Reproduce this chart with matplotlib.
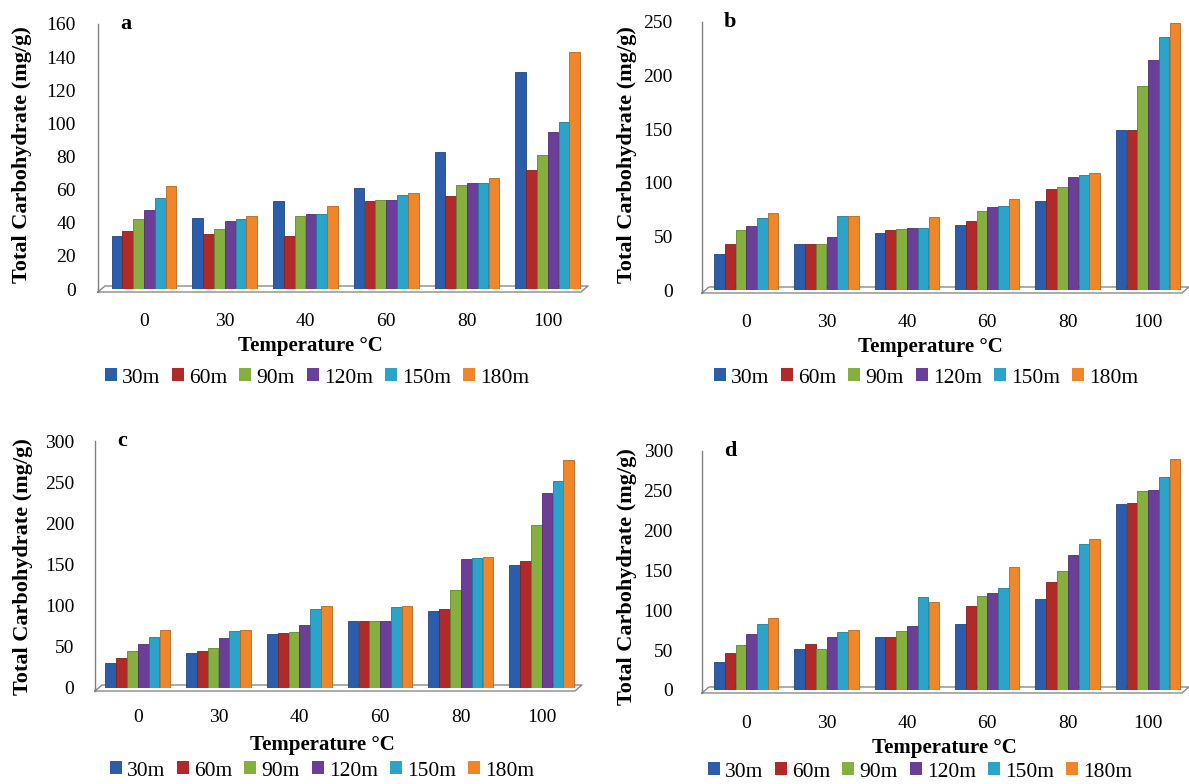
import matplotlib
matplotlib.use("Agg")
import matplotlib.pyplot as plt
from matplotlib.patches import Patch
import numpy as np

plt.rcParams['font.family'] = ['Liberation Serif', 'DejaVu Serif']

temps = ["0", "30", "40", "60", "80", "100"]
series = ["30m", "60m", "90m", "120m", "150m", "180m"]
colors = ["#2B5DAA", "#B02A2A", "#85B040", "#6B3F97", "#2CA3C8", "#F0862A"]

# values[temperature][series]
panel_a = [[32, 35, 42, 48, 55, 62],
           [43, 33, 36, 41, 42, 44],
           [53, 32, 44, 45, 45, 50],
           [61, 53, 54, 54, 57, 58],
           [83, 56, 63, 64, 64, 67],
           [131, 72, 81, 95, 101, 143]]
panel_b = [[34, 43, 56, 60, 67, 72],
           [43, 43, 43, 49, 69, 69],
           [53, 56, 57, 58, 58, 68],
           [61, 64, 74, 77, 78, 85],
           [83, 94, 96, 105, 107, 109],
           [149, 149, 190, 215, 236, 249]]
panel_c = [[30, 37, 45, 53, 62, 70],
           [43, 45, 49, 61, 69, 71],
           [65, 67, 68, 77, 96, 100],
           [81, 81, 81, 81, 98, 100],
           [93, 96, 119, 157, 158, 159],
           [150, 154, 198, 237, 251, 277]]
panel_d = [[35, 46, 56, 70, 83, 90],
           [51, 58, 52, 67, 73, 75],
           [67, 67, 74, 80, 117, 111],
           [83, 106, 118, 122, 128, 154],
           [114, 136, 149, 170, 183, 190],
           [233, 235, 250, 251, 267, 290]]

W, H = 1189, 784
fig = plt.figure(figsize=(W / 100, H / 100), dpi=100)

def add_ax(x0, x1, ytop, ybot):
    return fig.add_axes([x0 / W, 1 - ybot / H, (x1 - x0) / W, (ybot - ytop) / H])

def darker(c, f=0.75):
    r, g, b = matplotlib.colors.to_rgb(c)
    return (r * f, g * f, b * f)

panels = [
    # data, letter, ymax, step, axes px (x0,x1,ytop,ybot), xlim, xtick pad, ytick pad, ylabel pos, xlabel pos, legend pos
    (panel_a, "a", 160, 20, (98, 588, 24, 289), (-0.57, 5.5), 17, 16, (22, 155), (310, 346), (317, 378)),
    (panel_b, "b", 250, 50, (702, 1189, 22, 290), (-0.55, 5.51), 17, 21, (627, 155), (930, 347), (926, 378)),
    (panel_c, "c", 300, 50, (95, 582, 441, 688), (-0.53, 5.5), 15, 15, (23, 567), (322, 745), (322, 771)),
    (panel_d, "d", 300, 50, (702, 1189, 451, 690), (-0.55, 5.51), 18, 21, (627, 577), (944, 748), (920, 772)),
]

nser = len(series)
bw = 0.134
x = np.arange(len(temps))

for data, letter, ymax, step, (x0, x1, yt, yb), xl, xpad, ypad, ylp, xlp, lgp in panels:
    ax = add_ax(x0, x1, yt, yb)
    vals = np.array(data)
    for j in range(nser):
        ax.bar(x + (j - (nser - 1) / 2) * bw, vals[:, j], width=bw * 0.98,
               color=colors[j], edgecolor=darker(colors[j]), linewidth=0.6, zorder=3)
    ax.set_xlim(*xl)
    ax.set_ylim(0, ymax)
    ax.set_yticks(np.arange(0, ymax + 1, step))
    ax.set_xticks(x)
    ax.set_xticklabels(temps)
    ax.tick_params(axis='x', length=0, pad=xpad, labelsize=14)
    ax.tick_params(axis='y', length=0, pad=ypad, labelsize=14)
    for s in ["top", "right", "bottom"]:
        ax.spines[s].set_visible(False)
    ax.spines["left"].set_color("#808080")
    ax.spines["left"].set_linewidth(1.0)
    # 3D-like floor (parallelogram) in pixel offsets
    ax_w = (x1 - x0)
    ax_h = (yb - yt)
    dx = 7 / ax_w
    dy = 3 / ax_h
    fx = [0, 1 - dx, 1, dx, 0]
    fy = [-dy, -dy, dy, dy, -dy]
    ax.plot(fx, fy, transform=ax.transAxes, color="#8a8a8a", lw=1.0, clip_on=False, zorder=2)
    ax.plot([0, 0], [-dy, 0], transform=ax.transAxes, color="#808080", lw=1.0, clip_on=False)
    ax.text(0.045, 1.0, letter, transform=ax.transAxes, fontsize=16, fontweight='bold',
            va='center', ha='left')
    fig.text(ylp[0] / W, 1 - ylp[1] / H, "Total Carbohydrate (mg/g)", rotation=90,
             fontsize=16, fontweight='bold', ha='center', va='center')
    fig.text(xlp[0] / W, 1 - xlp[1] / H, "Temperature °C", fontsize=15,
             fontweight='bold', ha='center', va='center')
    handles = [Patch(facecolor=c, edgecolor='none') for c in colors]
    fig.legend(handles, series, loc='center', bbox_to_anchor=(lgp[0] / W, 1 - lgp[1] / H),
               ncol=6, frameon=False, fontsize=15.5, handlelength=0.55, handleheight=0.55,
               handletextpad=0.25, columnspacing=0.55, borderpad=0)

fig.savefig("out.png", dpi=100)
